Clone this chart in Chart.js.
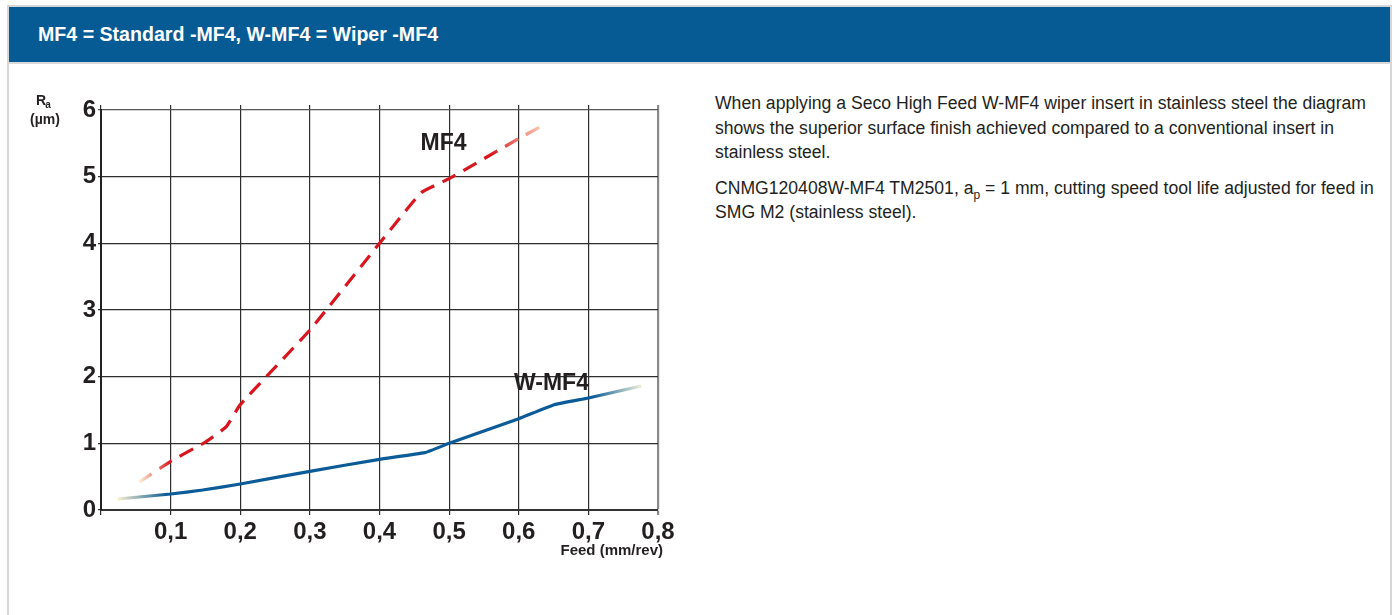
<!DOCTYPE html>
<html>
<head>
<meta charset="utf-8">
<script src="https://cdn.jsdelivr.net/npm/chart.js@4.4.1/dist/chart.umd.min.js"></script>
<style>
    body { margin: 0; background: #ffffff; width: 1395px; height: 615px; overflow: hidden; font-family: "Liberation Sans", Arial, sans-serif; }
    #frame { position: absolute; left: 7px; top: 5px; width: 1381px; height: 640px; border: 2px solid #d6d6d6; }
    #header { position: absolute; left: 9px; top: 7px; width: 1381px; height: 55px; background: #065b95; border-bottom: 2px solid #d9d9d9; }
    #header span { position: absolute; left: 29px; top: 0; line-height: 55px; font-size: 19.6px; font-weight: bold; color: #ffffff; }
    #note { position: absolute; left: 715px; top: 91px; width: 665px; color: #231f20; font-size: 17.6px; line-height: 24.5px; }
    #note p { margin: 0 0 11px 0; }
    #chartBox { position: absolute; left: 0; top: 70px; width: 700px; height: 530px; }
</style>
</head>
<body>
<div id="frame"></div>
<div id="header"><span>MF4 = Standard -MF4, W-MF4 = Wiper -MF4</span></div>
<div id="note">
    <p>When applying a Seco High Feed W-MF4 wiper insert in stainless steel the diagram shows the superior surface finish achieved compared to a conventional insert in stainless steel.</p>
    <p>CNMG120408W-MF4 TM2501, a<sub style="font-size:12px;line-height:0">p</sub> = 1 mm, cutting speed tool life adjusted for feed in SMG M2 (stainless steel).</p>
</div>
<div id="chartBox"><canvas id="feedChart" width="700" height="530"></canvas></div>

<script>
// feed (mm/rev) and Ra (µm)
const feedMF4 = [0.055, 0.1, 0.15, 0.18, 0.2, 0.3, 0.4, 0.46, 0.5, 0.6, 0.64];
const raMF4 = [0.42, 0.73, 1.02, 1.25, 1.58, 2.7, 4.0, 4.76, 4.97, 5.57, 5.8];
const feedWMF4 = [0.024, 0.1, 0.146, 0.2, 0.3, 0.4, 0.465, 0.5, 0.6, 0.651, 0.7, 0.776];
const raWMF4 = [0.165, 0.24, 0.3, 0.39, 0.58, 0.76, 0.86, 1.0, 1.37, 1.58, 1.68, 1.86];
const seriesNames = ["MF4", "W-MF4"];
const feedTicks = [0, 0.1, 0.2, 0.3, 0.4, 0.5, 0.6, 0.7, 0.8];
const raTicks = [0, 1, 2, 3, 4, 5, 6];

const textColor = "#231f20";

function toPoints(xs, ys) {
    return xs.map(function (x, i) { return { x: x, y: ys[i] }; });
}

// colour fades out at both ends of a curve
function fadeStroke(chart, xs, light0, main, light1, fadeIn, fadeOut) {
    const area = chart.chartArea;
    if (!area) return main;
    const sx = chart.scales.x;
    const p0 = sx.getPixelForValue(xs[0]);
    const p1 = sx.getPixelForValue(xs[xs.length - 1]);
    const g = chart.ctx.createLinearGradient(p0, 0, p1, 0);
    const w = p1 - p0;
    g.addColorStop(0, light0);
    g.addColorStop(Math.min(1, (sx.getPixelForValue(xs[0] + fadeIn) - p0) / w), main);
    g.addColorStop(Math.max(0, (sx.getPixelForValue(xs[xs.length - 1] - fadeOut) - p0) / w), main);
    g.addColorStop(1, light1);
    return g;
}

const labelsPlugin = {
    id: "diagramLabels",
    afterDatasetsDraw(chart) {
        const ctx = chart.ctx;
        const sx = chart.scales.x, sy = chart.scales.y;
        const a = chart.chartArea;
        ctx.save();
        ctx.fillStyle = textColor;
        ctx.textBaseline = "middle";
        ctx.textAlign = "center";
        // curve names
        ctx.font = 'bold 23px "Liberation Sans", Arial, sans-serif';
        ctx.fillText(seriesNames[0], sx.getPixelForValue(0.492), sy.getPixelForValue(5.5));
        ctx.fillText(seriesNames[1], sx.getPixelForValue(0.647), sy.getPixelForValue(1.89));
        // y axis title: Ra (µm)
        ctx.font = 'bold 14px "Liberation Sans", Arial, sans-serif';
        ctx.fillText("R", a.left - 60, a.top - 9);
        ctx.font = 'bold 10px "Liberation Sans", Arial, sans-serif';
        ctx.fillText("a", a.left - 53, a.top - 5);
        ctx.font = 'bold 14px "Liberation Sans", Arial, sans-serif';
        ctx.fillText("(µm)", a.left - 56, a.top + 10);
        // x axis title
        ctx.textAlign = "right";
        ctx.font = 'bold 15px "Liberation Sans", Arial, sans-serif';
        ctx.fillText("Feed (mm/rev)", a.right + 5, a.bottom + 41);
        ctx.restore();
    }
};

const ctx = document.getElementById("feedChart").getContext("2d");
new Chart(ctx, {
    type: "scatter",
    data: {
        datasets: [
            {
                label: seriesNames[0],
                data: toPoints(feedMF4, raMF4),
                showLine: true,
                borderColor: function (c) {
                    return fadeStroke(c.chart, feedMF4, "#fdf0d8", "#d9161f", "#fde0c4", 0.045, 0.08);
                },
                borderWidth: 3.2,
                borderDash: [15, 9],
                tension: 0.12,
                pointRadius: 0,
                fill: false,
            },
            {
                label: seriesNames[1],
                data: toPoints(feedWMF4, raWMF4),
                showLine: true,
                borderColor: function (c) {
                    return fadeStroke(c.chart, feedWMF4, "#f8efcc", "#0a5b97", "#eeeed8", 0.07, 0.07);
                },
                borderWidth: 3.2,
                tension: 0.12,
                pointRadius: 0,
                fill: false,
            },
        ],
    },
    options: {
        responsive: false,
        animation: false,
        layout: { padding: { top: 40, right: 42, left: 0, bottom: 0 } },
        plugins: {
            legend: { display: false },
            tooltip: { enabled: false },
        },
        scales: {
            x: {
                type: "linear",
                min: 0,
                max: 0.8,
                afterBuildTicks: function (s) { s.ticks = feedTicks.map(function (v) { return { value: v }; }); },
                afterFit: function (s) { s.height = 90; },
                ticks: {
                    color: textColor,
                    padding: 3,
                    maxRotation: 0,
                    font: { family: '"Liberation Sans", Arial, sans-serif', size: 24, weight: "bold" },
                    callback: function (v) { return v === 0 ? "" : v.toFixed(1).replace(".", ","); },
                },
                grid: {
                    color: function (c) { return c.tick && c.tick.value === 0.8 ? "#8a8a8a" : "#2e2e2e"; },
                    lineWidth: function (c) { return c.tick && c.tick.value === 0.8 ? 2.2 : 1.2; },
                    tickLength: 5,
                },
                border: { display: true, color: "#333333", width: 2 },
            },
            xTop: {
                type: "linear",
                position: "top",
                min: 0,
                max: 0.8,
                afterBuildTicks: function (s) { s.ticks = feedTicks.map(function (v) { return { value: v }; }); },
                afterFit: function (s) { s.height = 0; },
                ticks: { display: false },
                grid: {
                    drawOnChartArea: false,
                    color: function (c) { return c.tick && c.tick.value === 0.8 ? "#8a8a8a" : "#2e2e2e"; },
                    lineWidth: function (c) { return c.tick && c.tick.value === 0.8 ? 2.2 : 1.2; },
                    tickLength: 5,
                },
                border: { display: false },
            },
            y: {
                min: 0,
                max: 6,
                afterBuildTicks: function (s) { s.ticks = raTicks.map(function (v) { return { value: v }; }); },
                afterFit: function (s) { s.width = 101; },
                ticks: {
                    color: textColor,
                    padding: 2,
                    font: { family: '"Liberation Sans", Arial, sans-serif', size: 24, weight: "bold" },
                },
                grid: {
                    color: function (c) { return c.tick && c.tick.value === 6 ? "#555555" : "#2e2e2e"; },
                    lineWidth: 1.2,
                    tickLength: 3,
                },
                border: { display: true, color: "#222222", width: 2 },
            },
        },
    },
    plugins: [labelsPlugin],
});
</script>
</body>
</html>
